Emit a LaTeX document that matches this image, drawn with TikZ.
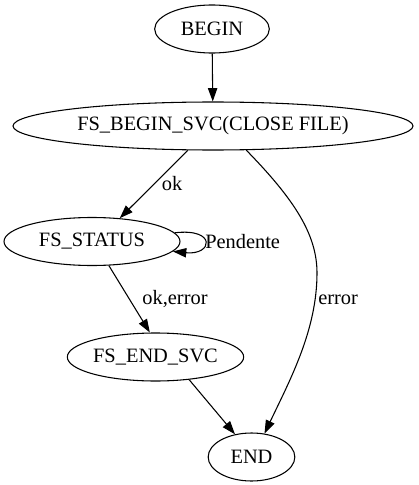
\documentclass[tikz,border=0pt]{standalone}
\usepackage{fontspec}
\setmainfont{Liberation Serif}
\usetikzlibrary{arrows.meta,shapes.geometric}

\begin{document}
\begin{tikzpicture}[
  x=0.75pt, y=-0.75pt,
  state/.style={draw, ellipse, line width=0.8pt, inner sep=0pt, minimum height=36pt, font=\fontsize{15.3}{17}\selectfont},
  lbl/.style={inner sep=0pt, font=\fontsize{15.3}{17}\selectfont},
  arr/.style={-{Triangle[length=10pt,width=7pt]}, line width=0.8pt}
]
\useasboundingbox (0,0) rectangle (418,485);
\node[state, minimum width=86pt] (begin) at (212,29) {BEGIN};
\node[state, minimum width=300pt] (svc) at (213,126) {FS\_BEGIN\_SVC(CLOSE FILE)};
\node[state, minimum width=132pt] (status) at (92,241.5) {FS\_STATUS};
\node[state, minimum width=125pt] (endsvc) at (155.5,357) {FS\_END\_SVC};
\node[state, minimum width=65pt] (end) at (251.5,457) {END};
\coordinate (bend) at (317,273);
% edge labels
\node[lbl] (lok) at (172,184) {ok};
\node[lbl, anchor=west] (lpend) at (205,242) {Pendente};
\node[lbl] (lokerr) at (175,299) {ok,error};
\node[lbl, anchor=west] (lerr) at (318,300) {error};
% edges
\draw[arr] (begin) -- (svc);
\draw[arr] (svc.-136) -- (status.40);
\draw[arr] (status.6) .. controls +(42,-5) and +(40,4) .. (status.-7);
\draw[arr] (status.-55) -- (endsvc.103);
\draw[arr] (endsvc.-34) -- (end.126);
\draw[arr] (svc.-36) .. controls (295,200) and (317,235) .. (bend) .. controls (317,330) and (290,380) .. (end.61);
\end{tikzpicture}
\end{document}
